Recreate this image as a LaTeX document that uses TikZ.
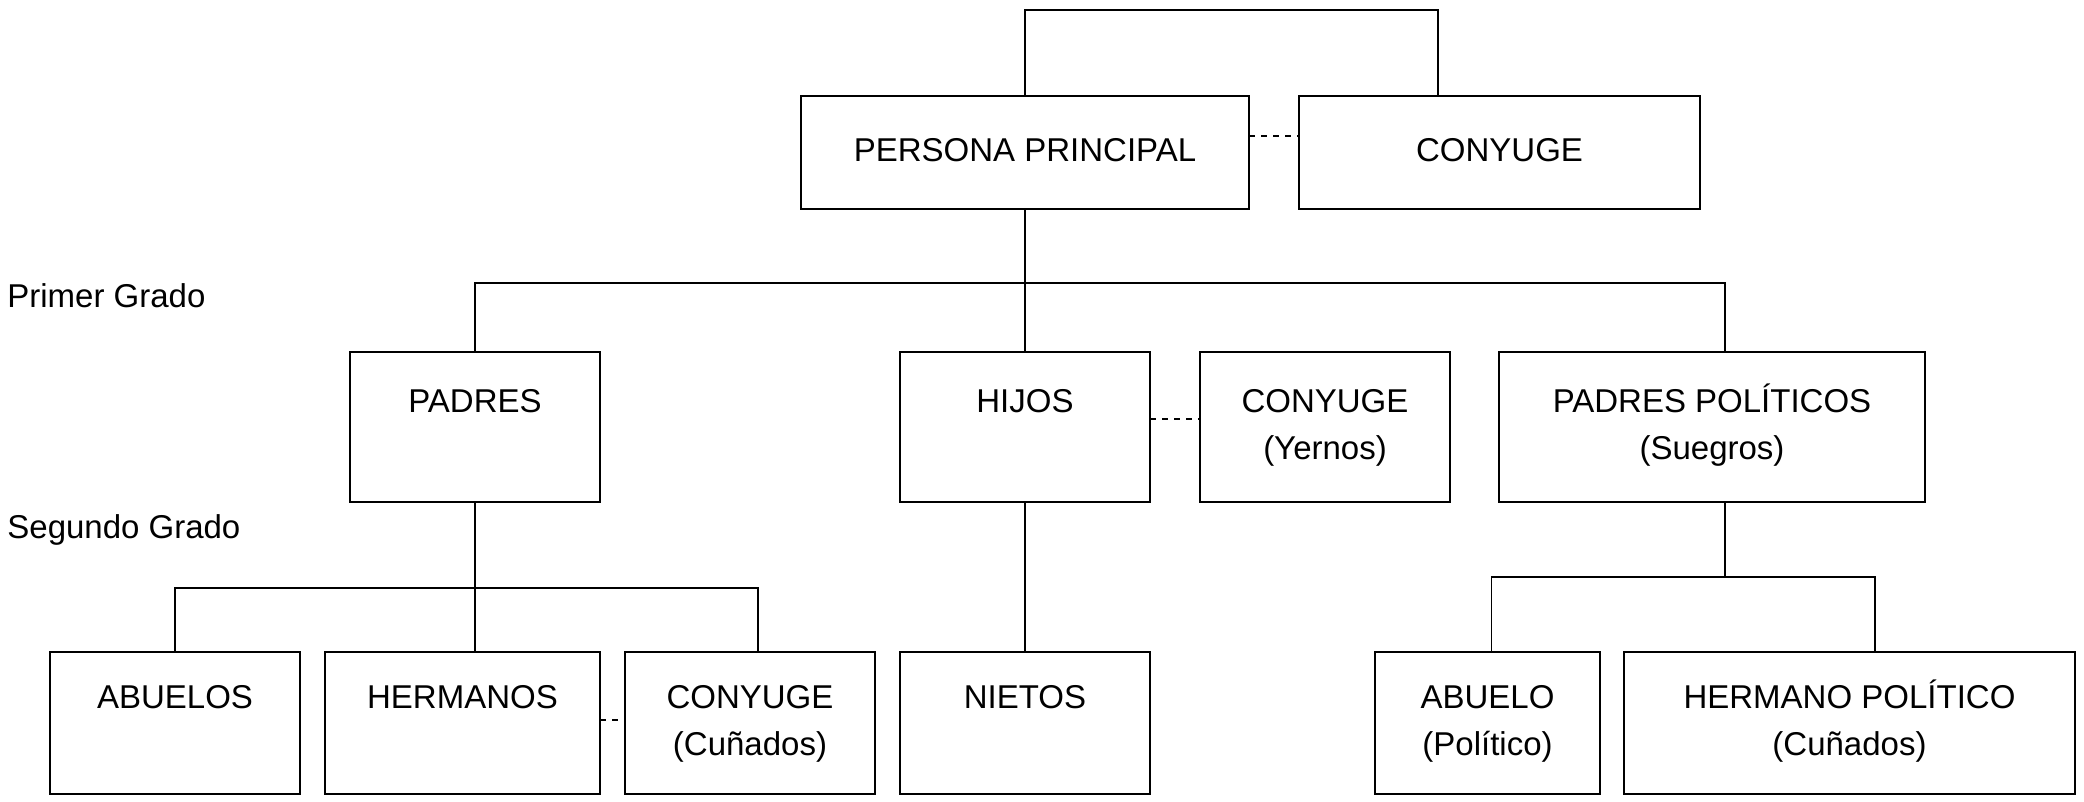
\documentclass[tikz,border=0pt]{standalone}
\usepackage{fontspec}
\setmainfont{Liberation Sans}
\usetikzlibrary{positioning}
\newcommand{\dos}[2]{\strut#1\\\strut#2}

\begin{document}
\begin{tikzpicture}[x=1pt, y=-1pt,
  fam/.style={draw, line width=1pt, align=center, inner sep=0pt, outer sep=0pt,
              font=\fontsize{16.5}{23.5}\selectfont},
  fila/.style={fam, minimum height=75pt},
  baja/.style={fam, minimum height=71pt},
  lin/.style={line width=0.75pt},
  rel/.style={line width=1pt, dash pattern=on 3pt off 3pt},
  grado/.style={anchor=base west, inner sep=0pt,
                font=\fontsize{16.5}{23.5}\selectfont}]
\useasboundingbox (0,0) rectangle (1042,401);
% persona principal y conyuge
\node[fam, minimum width=224pt, minimum height=56.5pt, anchor=north west]
  (pp) at (400.5,48) {\strut PERSONA PRINCIPAL};
\node[fam, minimum width=200.5pt, minimum height=56.5pt, right=25pt of pp]
  (cyg) {\strut CONYUGE};
% primer grado
\node[fila, minimum width=125pt, anchor=north west] (pad) at (175,176)
  {\dos{PADRES}{}};
\node[fila, minimum width=125pt, anchor=north west] (hij) at (450,176)
  {\dos{HIJOS}{}};
\node[fila, minimum width=125pt, right=25pt of hij] (cyh)
  {\dos{CONYUGE}{(Yernos)}};
\node[fila, minimum width=213pt, right=24.5pt of cyh] (pps)
  {\dos{PADRES POLÍTICOS}{(Suegros)}};
% segundo grado
\node[baja, minimum width=125pt, anchor=north west] (abu) at (25,326)
  {\dos{ABUELOS}{}};
\node[baja, minimum width=137.5pt, right=12.5pt of abu] (her)
  {\dos{HERMANOS}{}};
\node[baja, minimum width=125pt, right=12.5pt of her] (cyc)
  {\dos{CONYUGE}{(Cuñados)}};
\node[baja, minimum width=125pt, right=12.5pt of cyc] (nie)
  {\dos{NIETOS}{}};
\node[baja, minimum width=112.5pt, anchor=north west] (abp) at (687.5,326)
  {\dos{ABUELO}{(Político)}};
\node[baja, minimum width=225.5pt, right=12pt of abp] (hep)
  {\dos{HERMANO POLÍTICO}{(Cuñados)}};
% grados
\node[grado] (g1) at (3.5,154) {Primer Grado};
\node[grado] (g2) at (3.5,269) {Segundo Grado};
% lineas
\coordinate (cima) at (719,5);
\coordinate (sue) at (862.5,141.5);
\coordinate (cun) at (379,294);
\coordinate (hpo) at (937.5,288.5);
\draw[lin] (pp.north) |- (cima) -- (cima |- cyg.north);
\draw[lin] (pp.south) -- (hij.north);
\draw[lin] (pad.north) |- (sue) -- (sue |- pps.north);
\draw[lin] (pad.south) -- (pad.south |- her.north);
\draw[lin] (abu.north) |- (cun) -- (cun |- cyc.north);
\draw[lin] (hij.south) -- (nie.north);
\draw[lin] (sue |- pps.south) -- (sue |- hpo);
\draw[lin] ([xshift=2pt]abp.north) |- (hpo) -- (hpo |- hep.north);
% parejas
\draw[rel] ([yshift=8pt]pp.east) -- ([yshift=8pt]cyg.west);
\draw[rel] ([yshift=4pt]hij.east) -- ([yshift=4pt]cyh.west);
\draw[rel] ([yshift=1.5pt]her.east) -- ([yshift=1.5pt]cyc.west);
\end{tikzpicture}
\end{document}
